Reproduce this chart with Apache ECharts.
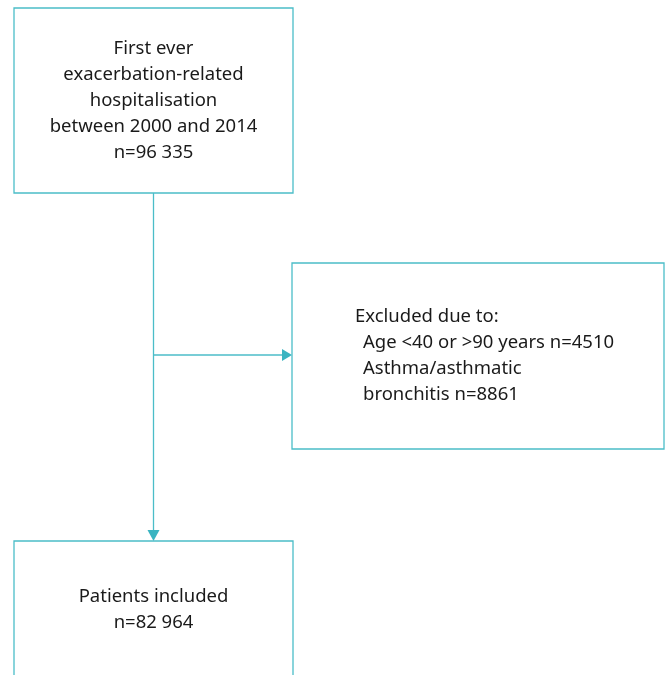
<!DOCTYPE html>
<html>
<head>
<meta charset="utf-8">
<script src="https://cdn.jsdelivr.net/npm/echarts@6/dist/echarts.min.js"></script>
<style>html,body{margin:0;padding:0;background:#fff}#c{width:670px;height:675px}</style>
</head>
<body>
<div id="c"></div>
<script>
// Data
var startLines = ['First ever', 'exacerbation-related', 'hospitalisation', 'between 2000 and 2014'];
var startN = '96 335';
var excludedTitle = 'Excluded due to:';
var excludedReasons = ['Age <40 or >90 years', 'Asthma/asthmatic\nbronchitis'];
var excludedN = [4510, 8861];
var includedLabel = 'Patients included';
var includedN = '82 964';

var COLOR = '#4bbdc8';
var FONT = '"Noto Sans", sans-serif';
var FS = '18.5px ';
var chart = echarts.init(document.getElementById('c'), null, {renderer: 'canvas'});

var box1 = {x: 14, y: 8, w: 279, h: 185};
var box2 = {x: 292, y: 263, w: 372, h: 186};
var box3 = {x: 14, y: 541, w: 279, h: 160};
var midX = box1.x + box1.w / 2;
var branchY = 355;

var startText = startLines.join('\n') + '\nn=' + startN;
var reasonsText = excludedReasons.map(function (r, i) {
  return r + ' n=' + excludedN[i];
}).join('\n');
var inclText = includedLabel + '\nn=' + includedN;

function rectEl(b) {
  return {type: 'rect', shape: {x: b.x, y: b.y, width: b.w, height: b.h},
    style: {fill: '#fff', stroke: COLOR, lineWidth: 1.3}};
}
function lineEl(x1, y1, x2, y2) {
  return {type: 'line', shape: {x1: x1, y1: y1, x2: x2, y2: y2}, style: {stroke: COLOR, lineWidth: 1.3}};
}
function textEl(x, y, txt, align) {
  return {type: 'text', x: x, y: y, style: {text: txt, font: FS + FONT, fill: '#1a1a1a', align: align, verticalAlign: 'top', lineHeight: 26}};
}

chart.setOption({
  animation: false,
  graphic: [
    lineEl(midX, box1.y + box1.h, midX, box3.y - 9),
    lineEl(midX, branchY, box2.x - 9, branchY),
    {type: 'polygon', shape: {points: [[box2.x - 10, branchY - 6], [box2.x, branchY], [box2.x - 10, branchY + 6]]}, style: {fill: '#3ab4c1'}},
    {type: 'polygon', shape: {points: [[midX - 6, box3.y - 11], [midX + 6, box3.y - 11], [midX, box3.y]]}, style: {fill: '#3ab4c1'}},
    rectEl(box1), rectEl(box2), rectEl(box3),
    textEl(midX, 36, startText, 'center'),
    textEl(355, 304, excludedTitle, 'left'),
    textEl(363, 330, reasonsText, 'left'),
    textEl(midX, 584, inclText, 'center')
  ]
});
</script>
</body>
</html>
